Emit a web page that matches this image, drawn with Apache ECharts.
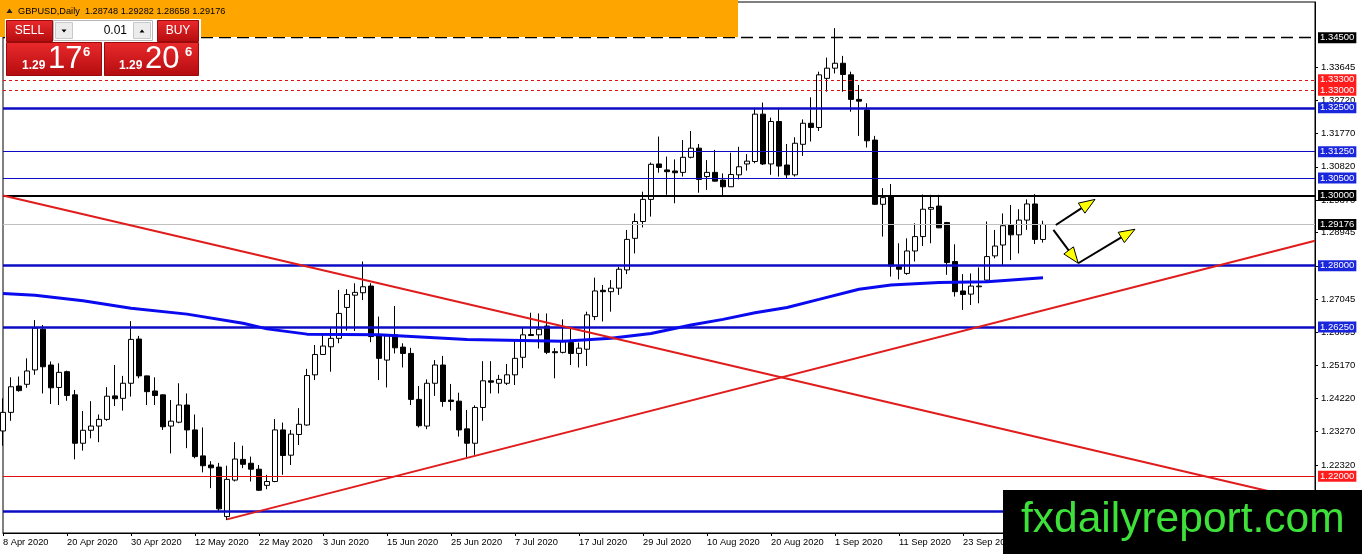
<!DOCTYPE html>
<html>
<head>
<meta charset="utf-8">
<script src="https://cdn.jsdelivr.net/npm/echarts@6/dist/echarts.min.js"></script>
<style>
html,body{margin:0;padding:0;background:#fff;}
#c{width:1362px;height:554px;}
</style>
</head>
<body>
<div id="c"></div>
<script>
// ---------- DATA ----------
const opens = [1.2329,1.2382,1.2457,1.2462,1.2503,1.2619,1.2517,1.2453,1.2498,1.2432,
1.2294,1.2331,1.2343,1.2362,1.2429,1.2422,1.2465,1.2591,1.2486,1.2443,
1.2432,1.2343,1.2354,1.2403,1.2332,1.2258,1.2232,1.2226,1.2085,1.2189,
1.2248,1.2237,1.2220,1.2174,1.2185,1.2332,1.2260,1.2319,1.2346,1.2489,
1.2547,1.2569,1.2593,1.2681,1.2716,1.2723,1.2742,1.2600,1.2531,1.2603,
1.2568,1.2550,1.2419,1.2343,1.2465,1.2517,1.2417,1.2414,1.2335,1.2294,
1.2396,1.2472,1.2465,1.2465,1.2489,1.2539,1.2604,1.2603,1.2628,1.2555,
1.2553,1.2581,1.2550,1.2562,1.2655,1.2730,1.2726,1.2736,1.2788,1.2878,
1.2926,1.2989,1.3090,1.3073,1.3070,1.3066,1.3109,1.3135,1.3054,1.3066,
1.3044,1.3025,1.3059,1.3090,1.3097,1.3232,1.3090,1.3211,1.3087,1.3059,
1.3146,1.3206,1.3194,1.3334,1.3363,1.3377,1.3344,1.3274,1.3244,1.3158,
1.2975,1.2999,1.2797,1.2778,1.2842,1.2883,1.2961,1.2970,1.2923,1.2812,
1.2728,1.2719,1.2740,1.2759,1.2828,1.2859,1.2916,1.2888,1.2930,1.2976,
1.28748];
const closes = [1.2382,1.2455,1.2444,1.2500,1.2622,1.2512,1.2452,1.2496,1.2430,1.2294,
1.2331,1.2343,1.2362,1.2428,1.2421,1.2465,1.2590,1.2486,1.2441,1.2430,
1.2341,1.2357,1.2403,1.2332,1.2256,1.2230,1.2224,1.2107,1.2191,1.2249,
1.2234,1.2220,1.2160,1.2185,1.2332,1.2259,1.2320,1.2348,1.2487,1.2547,
1.2571,1.2593,1.2664,1.2718,1.2724,1.2740,1.2598,1.2536,1.2600,1.2566,
1.2550,1.2419,1.2344,1.2465,1.2517,1.2413,1.2413,1.2332,1.2294,1.2396,
1.2472,1.2468,1.2476,1.2489,1.2536,1.2603,1.2601,1.2619,1.2553,1.2552,
1.2585,1.2550,1.2565,1.2660,1.2728,1.2726,1.2736,1.2790,1.2875,1.2926,
1.2989,1.3089,1.3080,1.3068,1.3065,1.3109,1.3135,1.3046,1.3066,1.3041,
1.3025,1.3060,1.3082,1.3098,1.3232,1.3090,1.3211,1.3084,1.3059,1.3149,
1.3206,1.3194,1.3344,1.3363,1.3377,1.3345,1.3274,1.3269,1.3156,1.2975,
1.2994,1.2799,1.2790,1.2842,1.2883,1.2961,1.2966,1.2908,1.2809,1.2726,
1.2718,1.2742,1.2742,1.2826,1.2856,1.2914,1.2888,1.2930,1.2976,1.2875,
1.29176];
const lows = [1.2287,1.2358,1.2441,1.2452,1.2489,1.2436,1.2406,1.2403,1.2415,1.2248,
1.2273,1.2308,1.2297,1.2358,1.2400,1.2387,1.2427,1.2479,1.2403,1.2403,
1.2332,1.2265,1.2351,1.2280,1.2251,1.2211,1.2166,1.2101,1.2075,1.2185,
1.2223,1.2185,1.2158,1.2163,1.2183,1.2204,1.2232,1.2289,1.2344,1.2474,
1.2546,1.2498,1.2579,1.2615,1.2614,1.2702,1.2582,1.2474,1.2453,1.2550,
1.2510,1.2403,1.2339,1.2334,1.2429,1.2398,1.2387,1.2313,1.2254,1.2261,
1.2358,1.2436,1.2436,1.2460,1.2460,1.2508,1.2600,1.2564,1.2548,1.2479,
1.2550,1.2517,1.2510,1.2514,1.2645,1.2641,1.2669,1.2717,1.2776,1.2835,
1.2909,1.2940,1.3065,1.3002,1.2978,1.3054,1.3106,1.3008,1.3016,1.3040,
1.2999,1.3025,1.3046,1.3071,1.3092,1.3087,1.3059,1.3054,1.3049,1.3054,
1.3113,1.3154,1.3184,1.3296,1.3348,1.3296,1.3239,1.3170,1.3137,1.2973,
1.2883,1.2769,1.2761,1.2774,1.2812,1.2856,1.2864,1.2907,1.2774,1.2712,
1.2674,1.2688,1.2693,1.2757,1.2821,1.2802,1.2816,1.2835,1.2902,1.2862,
1.28658];
const highs = [1.2422,1.2482,1.2484,1.2536,1.2645,1.2631,1.2527,1.2522,1.2501,1.2446,
1.2386,1.2414,1.2376,1.2454,1.2517,1.2486,1.2642,1.2600,1.2487,1.2482,
1.2433,1.2417,1.2465,1.2436,1.2376,1.2339,1.2243,1.2238,1.2230,1.2297,
1.2287,1.2256,1.2232,1.2204,1.2363,1.2353,1.2332,1.2394,1.2506,1.2574,
1.2603,1.2626,1.2731,1.2733,1.2750,1.2812,1.2750,1.2655,1.2603,1.2685,
1.2579,1.2566,1.2457,1.2476,1.2531,1.2543,1.2463,1.2438,1.2389,1.2402,
1.2528,1.2528,1.2489,1.2520,1.2590,1.2624,1.2666,1.2664,1.2664,1.2565,
1.2647,1.2622,1.2581,1.2669,1.2766,1.2745,1.2759,1.2797,1.2902,1.2949,
1.3011,1.3094,1.3168,1.3111,1.3103,1.3158,1.3184,1.3147,1.3101,1.3130,
1.3063,1.3122,1.3139,1.3118,1.3250,1.3265,1.3222,1.3249,1.3147,1.3166,
1.3217,1.3280,1.3353,1.3393,1.3477,1.3398,1.3353,1.3315,1.3263,1.3170,
1.3021,1.3033,1.2864,1.2878,1.2921,1.3003,1.3002,1.3002,1.2925,1.2861,
1.2776,1.2778,1.2795,1.2926,1.2902,1.2949,1.2973,1.2961,1.2989,1.3004,
1.29282];

// moving average readings (bar index, value)
const maIndex = [0,4,10,16,23,30,33,38,47,58,70,76,81,86,90,94,98,102,107,111,117,123,130];
const maValue = [1.2721,1.2716,1.2700,1.2679,1.2662,1.2636,1.2620,1.2605,1.2603,1.2590,1.2585,1.2593,1.2607,1.2631,1.2647,1.2666,1.2681,1.2704,1.2733,1.2745,1.2752,1.2754,1.2766];

// horizontal levels
const blueThick = [1.3250, 1.2800, 1.2625, 1.2100];
const blueThin = [1.3125, 1.3050];
const redDotted = [1.3330, 1.3300];
const redSolid = [1.2200];
const blackThick = [1.3000];
const blackDashed = [1.3450];
const bidLine = [1.29176];

// trend lines [startIndex, startPrice, endIndex, endPrice]
const trendDown = [0, 1.3000, 164, 1.21265];
const trendUp = [28, 1.2077, 164, 1.2871];

// arrows [x1, p1, x2(tip), p2]
const arrows = [
  [131.6, 1.2916, 136.5, 1.2989],
  [131.3, 1.2902, 134.4, 1.2807],
  [134.4, 1.2807, 141.5, 1.2904]
];

// axis ticks
const yTicks = [1.33645,1.32720,1.31770,1.30820,1.29870,1.28945,1.27995,1.27045,1.26095,1.25170,1.24220,1.23270,1.22320,1.21370,1.20420];
const tickLabels = ['8 Apr 2020','20 Apr 2020','30 Apr 2020','12 May 2020','22 May 2020','3 Jun 2020','15 Jun 2020','25 Jun 2020','7 Jul 2020','17 Jul 2020','29 Jul 2020','10 Aug 2020','20 Aug 2020','1 Sep 2020','11 Sep 2020','23 Sep 2020'];

// trading-day categories (weekdays from 8 Apr 2020, incl. future space)
const TOTAL = 165;
const categories = [];
(function(){
  const mon = ['Jan','Feb','Mar','Apr','May','Jun','Jul','Aug','Sep','Oct','Nov','Dec'];
  let d = new Date(Date.UTC(2020,3,8));
  while (categories.length < TOTAL) {
    const wd = d.getUTCDay();
    if (wd >= 1 && wd <= 5) categories.push(d.getUTCDate()+' '+mon[d.getUTCMonth()]+' '+d.getUTCFullYear());
    d = new Date(d.getTime() + 86400000);
  }
})();

// ---------- BUILD ----------
const candleData = opens.map((o,i)=>[o, closes[i], lows[i], highs[i]]);
const maData = maIndex.map((ix,k)=>[ix, maValue[k]]);

const FONT = 'Liberation Sans';
const BLUE = '#0c0cc4';
const BLUE_LBL = '#1a26dc';
const RED = '#e01010';
const RED_LBL = '#ff1c1c';

function lvl(v, lineStyle, bg) {
  return {
    yAxis: v,
    lineStyle: lineStyle,
    label: {
      show: true, position: 'end', distance: 3,
      formatter: v.toFixed(5),
      color: '#fff', backgroundColor: bg,
      fontFamily: FONT, fontSize: 9.5, padding: [1, 2, 0, 2], lineHeight: 10
    }
  };
}
const levelData = [];
blackDashed.forEach(v=>levelData.push(lvl(v,{color:'#000',width:1.3,type:[12,6]},'#000')));
redDotted.forEach(v=>levelData.push(lvl(v,{color:RED,width:1,type:[3,3]},RED_LBL)));
blueThick.forEach(v=>levelData.push(lvl(v,{color:BLUE,width:2.5,type:'solid'},BLUE_LBL)));
blueThin.forEach(v=>levelData.push(lvl(v,{color:BLUE,width:1,type:'solid'},BLUE_LBL)));
blackThick.forEach(v=>levelData.push(lvl(v,{color:'#000',width:2,type:'solid'},'#000')));
bidLine.forEach(v=>levelData.push(lvl(v,{color:'#c0c0c0',width:1,type:'solid'},'#000')));
redSolid.forEach(v=>levelData.push(lvl(v,{color:RED,width:1,type:'solid'},RED_LBL)));

const chart = echarts.init(document.getElementById('c'), null, {renderer:'canvas'});

function interpCoord(api, ix, p) {
  const i0 = Math.floor(ix);
  const a = api.coord([i0, p]);
  const b = api.coord([i0 + 1, p]);
  return [a[0] + (b[0] - a[0]) * (ix - i0), a[1]];
}

const redGrad = () => new echarts.graphic.LinearGradient(0,0,0,1,[{offset:0,color:'#ea2a2c'},{offset:1,color:'#b40c0f'}]);

chart.setOption({
  animation: false,
  backgroundColor: '#fff',
  grid: { left: 3, right: 47, top: 2, bottom: 21, show: true, borderColor: '#000', borderWidth: 1, backgroundColor: 'transparent' },
  xAxis: {
    type: 'category', data: categories, boundaryGap: false,
    axisLine: { lineStyle: { color: '#000', width: 1 } },
    axisTick: { interval: 7, length: 3, lineStyle: { color: '#000' } },
    axisLabel: {
      interval: 7, align: 'left', margin: 5, color: '#000', fontFamily: FONT, fontSize: 9.3,
      formatter: (v, idx) => (idx % 8 === 0 && tickLabels[idx/8]) ? tickLabels[idx/8] : ''
    },
    splitLine: { show: false }
  },
  yAxis: {
    type: 'value', position: 'right', min: 1.20382, max: 1.35516, scale: true,
    axisLine: { show: true, lineStyle: { color: '#000' } },
    axisTick: { show: true, length: 3, customValues: yTicks, lineStyle: { color: '#000' } },
    axisLabel: { customValues: yTicks, margin: 6, color: '#000', fontFamily: FONT, fontSize: 9.5, formatter: v => v.toFixed(5) },
    splitLine: { show: false }
  },
  series: [
    {
      type: 'candlestick', data: candleData, barWidth: 5, clip: true, z: 3,
      itemStyle: { color: '#fff', color0: '#000', borderColor: '#000', borderColor0: '#000', borderWidth: 1 }
    },
    {
      type: 'line', data: [], z: 4, silent: true,
      markLine: { silent: true, precision: 6, symbol: ['none','none'], animation: false, data: levelData }
    },
    {
      type: 'line', data: maData, symbol: 'none', z: 5, silent: true,
      lineStyle: { color: '#0a0aee', width: 3 }
    },
    {
      type: 'line', data: [[trendDown[0],trendDown[1]],[trendDown[2],trendDown[3]]], symbol: 'none', z: 6, silent: true,
      lineStyle: { color: '#e01c1c', width: 2 }
    },
    {
      type: 'line', data: [[trendUp[0],trendUp[1]],[trendUp[2],trendUp[3]]], symbol: 'none', z: 6, silent: true,
      lineStyle: { color: '#e01c1c', width: 2 }
    },
    {
      type: 'custom', z: 7, silent: true, clip: false,
      data: arrows.map((a, k) => [k, a[1]]),
      encode: { x: 0, y: 1 },
      renderItem: function (params, api) {
        const a = arrows[params.dataIndex];
        const S = interpCoord(api, a[0], a[1]);
        const T = interpCoord(api, a[2], a[3]);
        const dx = T[0] - S[0], dy = T[1] - S[1];
        const len = Math.sqrt(dx*dx + dy*dy);
        const ux = dx/len, uy = dy/len;
        const nx = -uy, ny = ux;
        const L = 16, W = 6;
        const B = [T[0] - ux*L, T[1] - uy*L];
        return {
          type: 'group',
          children: [
            { type: 'line', shape: { x1: S[0], y1: S[1], x2: B[0], y2: B[1] }, style: { stroke: '#000', lineWidth: 2 } },
            { type: 'polygon', shape: { points: [T, [B[0]+nx*W, B[1]+ny*W], [B[0]-nx*W, B[1]-ny*W]] }, style: { fill: '#ffff00', stroke: '#000', lineWidth: 1 } }
          ]
        };
      }
    }
  ],
  graphic: [
    { type: 'rect', z: 100, shape: { x: 0, y: 0, width: 738, height: 37 }, style: { fill: '#FFA500' } },
    { type: 'polygon', z: 101, shape: { points: [[6.5,13],[12.5,13],[9.5,8.5]] }, style: { fill: '#222' } },
    { type: 'text', z: 101, x: 18, y: 11, style: { text: 'GBPUSD,Daily  1.28748 1.29282 1.28658 1.29176', font: '9.2px "Liberation Sans"', fill: '#000', verticalAlign: 'middle' } },
    // trade panel
    { type: 'rect', z: 101, shape: { x: 5, y: 19, width: 196, height: 59 }, style: { fill: '#fff' } },
    { type: 'rect', z: 102, shape: { x: 6.5, y: 20.5, width: 46, height: 21 }, style: { fill: redGrad(), stroke: '#9a0a0a', lineWidth: 1 } },
    { type: 'text', z: 103, x: 29.5, y: 31, style: { text: 'SELL', font: '12px "Liberation Sans"', fill: '#fff', align: 'center', verticalAlign: 'middle' } },
    { type: 'rect', z: 102, shape: { x: 53.5, y: 20.5, width: 99, height: 20 }, style: { fill: '#fff', stroke: '#b8b8b8', lineWidth: 1 } },
    { type: 'rect', z: 103, shape: { x: 55.5, y: 22.5, width: 17, height: 16 }, style: { fill: '#ececec', stroke: '#c8c8c8', lineWidth: 1 } },
    { type: 'polygon', z: 104, shape: { points: [[61.5,29.5],[66.5,29.5],[64,32.5]] }, style: { fill: '#000' } },
    { type: 'rect', z: 103, shape: { x: 133.5, y: 22.5, width: 17, height: 16 }, style: { fill: '#ececec', stroke: '#c8c8c8', lineWidth: 1 } },
    { type: 'polygon', z: 104, shape: { points: [[139.5,32.5],[144.5,32.5],[142,29.5]] }, style: { fill: '#000' } },
    { type: 'text', z: 104, x: 127, y: 31, style: { text: '0.01', font: '12px "Liberation Sans"', fill: '#000', align: 'right', verticalAlign: 'middle' } },
    { type: 'rect', z: 102, shape: { x: 157.5, y: 20.5, width: 41, height: 21 }, style: { fill: redGrad(), stroke: '#9a0a0a', lineWidth: 1 } },
    { type: 'text', z: 103, x: 178, y: 31, style: { text: 'BUY', font: '12px "Liberation Sans"', fill: '#fff', align: 'center', verticalAlign: 'middle' } },
    { type: 'rect', z: 102, shape: { x: 6.5, y: 42.5, width: 95, height: 33 }, style: { fill: redGrad(), stroke: '#9a0a0a', lineWidth: 1 } },
    { type: 'rect', z: 102, shape: { x: 104.5, y: 42.5, width: 94, height: 33 }, style: { fill: redGrad(), stroke: '#9a0a0a', lineWidth: 1 } },
    { type: 'text', z: 103, x: 22, y: 66, style: { text: '1.29', font: 'bold 12px "Liberation Sans"', fill: '#fff', verticalAlign: 'middle' } },
    { type: 'text', z: 103, x: 48, y: 59, style: { text: '17', font: '31px "Liberation Sans"', fill: '#fff', verticalAlign: 'middle' } },
    { type: 'text', z: 103, x: 83, y: 52, style: { text: '6', font: 'bold 13px "Liberation Sans"', fill: '#fff', verticalAlign: 'middle' } },
    { type: 'text', z: 103, x: 119, y: 66, style: { text: '1.29', font: 'bold 12px "Liberation Sans"', fill: '#fff', verticalAlign: 'middle' } },
    { type: 'text', z: 103, x: 145, y: 59, style: { text: '20', font: '31px "Liberation Sans"', fill: '#fff', verticalAlign: 'middle' } },
    { type: 'text', z: 103, x: 185, y: 52, style: { text: '6', font: 'bold 13px "Liberation Sans"', fill: '#fff', verticalAlign: 'middle' } },
    // watermark
    { type: 'rect', z: 110, shape: { x: 1003, y: 490, width: 359, height: 64 }, style: { fill: '#000' } },
    { type: 'text', z: 111, x: 1021, y: 520, style: { text: 'fxdailyreport.com', font: '42.5px "Liberation Sans"', fill: '#3ee03a', verticalAlign: 'middle' } }
  ]
});
</script>
</body>
</html>
